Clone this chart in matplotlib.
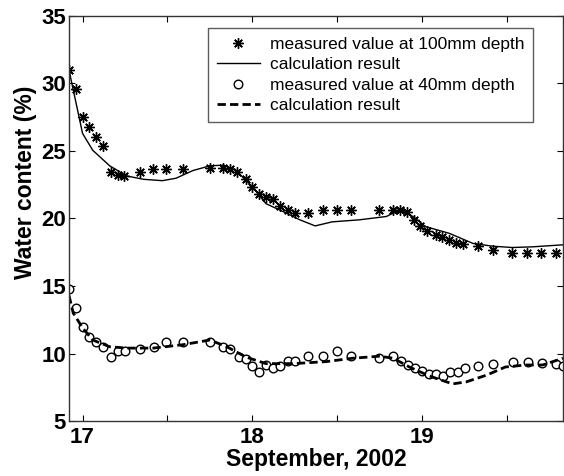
import numpy as np
import matplotlib.pyplot as plt

# measured at 100mm depth (day of September, water content %)
t100 = [16.92, 16.96, 17.00, 17.04, 17.08, 17.12, 17.17, 17.21, 17.245, 17.34,
        17.415, 17.49, 17.59, 17.75, 17.83, 17.87, 17.91, 17.96, 18.00, 18.04,
        18.08, 18.12, 18.165, 18.21, 18.25, 18.33, 18.415, 18.50, 18.58, 18.745,
        18.83, 18.87, 18.91, 18.955, 18.99, 19.03, 19.08, 19.12, 19.16, 19.20,
        19.24, 19.33, 19.415, 19.53, 19.62, 19.70, 19.79]
w100 = [31.0, 29.6, 27.5, 26.75, 26.05, 25.35, 23.45, 23.2, 23.15, 23.45,
        23.65, 23.65, 23.65, 23.75, 23.75, 23.65, 23.45, 22.9, 22.35, 21.8,
        21.6, 21.45, 20.9, 20.6, 20.4, 20.4, 20.6, 20.6, 20.6, 20.6,
        20.6, 20.6, 20.45, 19.9, 19.45, 19.1, 18.75, 18.6, 18.4, 18.2,
        18.1, 17.95, 17.7, 17.45, 17.45, 17.45, 17.45]

# calculation result at 100mm
tc100 = [16.92, 17.00, 17.06, 17.16, 17.26, 17.36, 17.47, 17.55, 17.65, 17.75,
         17.83, 17.90, 18.00, 18.08, 18.20, 18.28, 18.37, 18.47, 18.63, 18.79,
         18.87, 18.945, 19.02, 19.16, 19.30, 19.415, 19.53, 19.65, 19.83]
wc100 = [31.0, 26.3, 25.05, 23.9, 23.15, 22.9, 22.8, 22.98, 23.55, 23.9,
         23.95, 23.6, 22.35, 21.1, 20.4, 19.9, 19.45, 19.75, 19.9, 20.15,
         20.65, 20.15, 19.4, 18.9, 18.15, 17.95, 17.85, 17.9, 18.05]

# measured at 40mm depth
t40 = [16.92, 16.96, 17.00, 17.04, 17.08, 17.12, 17.165, 17.21, 17.25, 17.34,
       17.42, 17.49, 17.59, 17.75, 17.83, 17.87, 17.92, 17.96, 18.00, 18.04,
       18.08, 18.12, 18.165, 18.21, 18.25, 18.33, 18.415, 18.50, 18.58, 18.745,
       18.83, 18.875, 18.915, 18.96, 19.00, 19.04, 19.08, 19.125, 19.165, 19.21,
       19.25, 19.33, 19.415, 19.535, 19.625, 19.705, 19.79, 19.83]
w40 = [14.8, 13.4, 12.0, 11.2, 10.85, 10.5, 9.75, 10.15, 10.15, 10.35,
       10.5, 10.85, 10.85, 10.85, 10.5, 10.35, 9.75, 9.6, 9.1, 8.65,
       9.15, 8.95, 9.05, 9.45, 9.45, 9.8, 9.8, 10.2, 9.8, 9.65,
       9.8, 9.45, 9.15, 8.95, 8.7, 8.5, 8.5, 8.3, 8.65, 8.65,
       8.95, 9.05, 9.25, 9.4, 9.4, 9.3, 9.25, 9.05]

# calculation result at 40mm
tc40 = [16.92, 16.945, 17.00, 17.06, 17.16, 17.26, 17.415, 17.59, 17.75, 17.85,
        17.96, 18.08, 18.24, 18.435, 18.59, 18.75, 18.83, 18.925, 19.04, 19.12,
        19.18, 19.26, 19.38, 19.49, 19.61, 19.71, 19.83]
wc40 = [14.3, 13.0, 11.9, 11.0, 10.5, 10.4, 10.4, 10.65, 11.0, 10.5,
        9.75, 9.25, 9.25, 9.4, 9.65, 9.8, 9.65, 9.0, 8.35, 8.0,
        7.75, 7.9, 8.4, 9.0, 9.15, 9.15, 9.65]

xticks = [17, 17.5, 18, 18.5, 19, 19.5]
xticklabels = ['17', '', '18', '', '19', '']
yticks = [5, 10, 15, 20, 25, 30, 35]

plt.rcParams['font.family'] = ['Liberation Sans', 'DejaVu Sans']

fig = plt.figure(figsize=(5.64, 4.76), dpi=100)
ax = fig.add_axes([0.1223, 0.1155, 0.876, 0.851])

ax.plot(t100, w100, linestyle='none', marker=(8, 2, 0), ms=7.5, mew=1.0,
        color='k', label='measured value at 100mm depth')
ax.plot(tc100, wc100, '-', color='k', lw=1.0, label='calculation result')
ax.plot(t40, w40, linestyle='none', marker='o', ms=6.2, mfc='white', mec='k',
        mew=1.0, label='measured value at 40mm depth')
ax.plot(tc40, wc40, '--', color='k', lw=2.0, dashes=(3, 1.5),
        label='calculation result')

ax.set_xlim(16.92, 19.83)
ax.set_ylim(5, 35)
ax.set_xticks(xticks)
ax.set_xticklabels(xticklabels)
ax.set_yticks(yticks)
ax.tick_params(direction='in', top=True, right=True, length=4, width=0.8,
               labelsize=16, pad=2)
ax.tick_params(axis='x', pad=4)
for lab in ax.get_xticklabels() + ax.get_yticklabels():
    lab.set_fontweight('bold')
for s in ax.spines.values():
    s.set_linewidth(1.0)
    s.set_color('#333333')

ax.set_xlabel('September, 2002', fontsize=16.5, fontweight='bold', labelpad=0.5)
ax.set_ylabel('Water content (%)', fontsize=16.5, fontweight='bold')
ax.yaxis.set_label_coords(-0.065, 0.59)

leg = ax.legend(loc='upper right', bbox_to_anchor=(0.939, 0.970), fontsize=12.5,
                frameon=True, fancybox=False, edgecolor='#333333',
                borderpad=0.5, labelspacing=0.3, handlelength=2.5,
                handletextpad=0.55, borderaxespad=0)
leg.get_frame().set_linewidth(1.0)

fig.savefig('out.png', dpi=100)
